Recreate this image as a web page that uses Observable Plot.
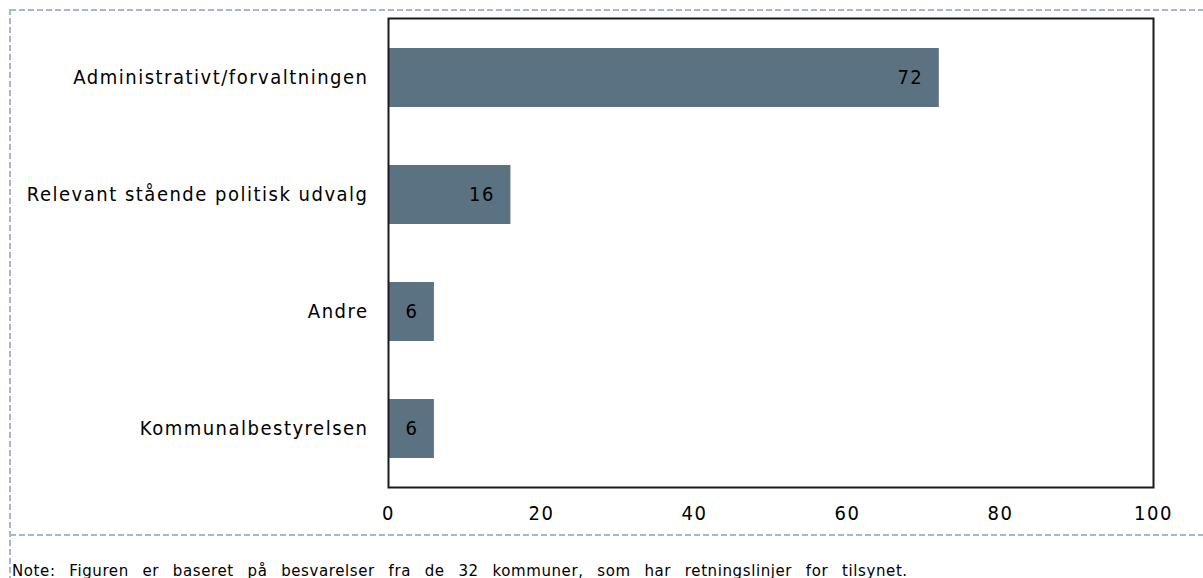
<!DOCTYPE html>
<html>
<head>
<meta charset="utf-8">
<script src="https://cdn.jsdelivr.net/npm/d3@7"></script>
<script src="https://cdn.jsdelivr.net/npm/@observablehq/plot@0.6"></script>
<style>
  html, body { margin: 0; padding: 0; background: #fff; overflow: hidden; }
  #wrap { position: relative; width: 1203px; height: 578px; }
  #chart { position: absolute; left: 0; top: 0; }
  #deco { position: absolute; left: 0; top: 0; pointer-events: none; }
  #note { position: absolute; left: 12px; top: 562px; font-family: "DejaVu Sans", sans-serif; font-size: 15px; color: #000; white-space: pre; word-spacing: 1.5px; letter-spacing: 0.6px; }
</style>
</head>
<body>
<div id="wrap">
  <div id="chart"></div>
  <svg id="deco" width="1203" height="578"></svg>
  <div id="note"></div>
</div>
<script>
const categories = ["Administrativt/forvaltningen", "Relevant stående politisk udvalg", "Andre", "Kommunalbestyrelsen"];
const values = [72, 16, 6, 6];
const xTicks = [0, 20, 40, 60, 80, 100];
const noteText = "Note:  Figuren  er  baseret  på  besvarelser  fra  de  32  kommuner,  som  har  retningslinjer  for  tilsynet.";

const data = categories.map((c, i) => ({category: c, value: values[i]}));

const chart = Plot.plot({
  width: 1203,
  height: 540,
  marginLeft: 388,
  marginRight: 50,
  marginTop: 18,
  marginBottom: 53,
  style: {fontFamily: "'DejaVu Sans Condensed', 'DejaVu Sans', sans-serif", fontSize: "20px", color: "#000", background: "transparent", letterSpacing: "1.5px"},
  x: {domain: [0, 100], label: null},
  y: {domain: categories, paddingInner: 0.5, paddingOuter: 0.25, label: null},
  marks: [
    Plot.barX(data, {x: "value", y: "category", fill: "#5b7282"}),
    Plot.text(data, {x: "value", y: "category", text: d => String(d.value), textAnchor: "end", dx: -16, fill: "#000"}),
    Plot.frame({stroke: "#1a1a1a", strokeWidth: 2}),
    Plot.axisX({ticks: xTicks, tickSize: 0, tickPadding: 18, label: null, tickFormat: d => String(d)}),
    Plot.axisY({tickSize: 0, tickPadding: 20, label: null})
  ]
});
document.getElementById("chart").appendChild(chart);
document.getElementById("note").textContent = noteText;

// decorative dashed border
const deco = d3.select("#deco");
const dash = {stroke: "#a5b8d0", "stroke-width": 2, "stroke-dasharray": "6,3"};
function line(x1, y1, x2, y2) {
  const l = deco.append("line").attr("x1", x1).attr("y1", y1).attr("x2", x2).attr("y2", y2);
  for (const k in dash) l.attr(k, dash[k]);
}
line(10, 10, 1203, 10);
line(10, 9, 10, 578);
line(10, 535, 1203, 535);
</script>
</body>
</html>
